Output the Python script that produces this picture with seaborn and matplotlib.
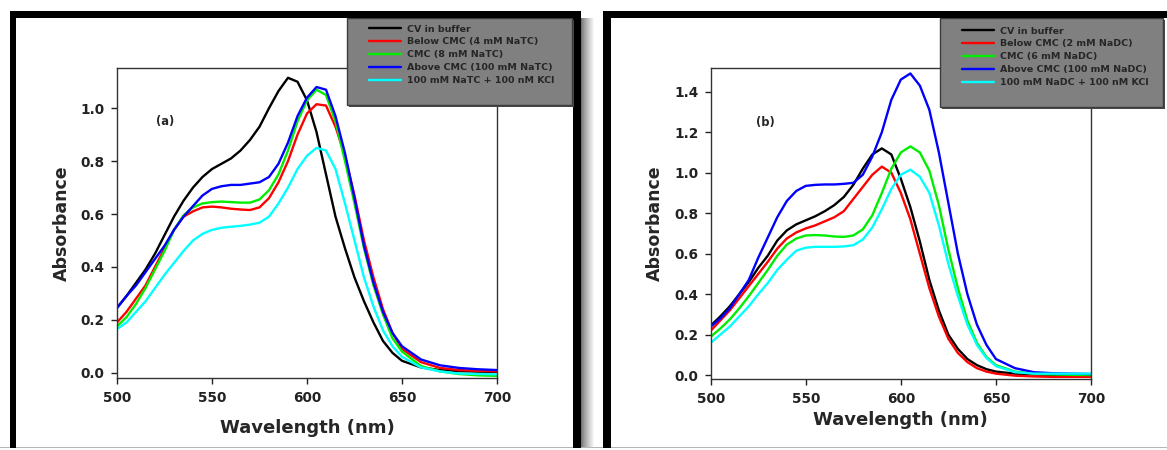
import numpy as np
import pandas as pd
import matplotlib
matplotlib.use("Agg")
import matplotlib.pyplot as plt
import seaborn as sns
from matplotlib.patches import Rectangle

# ---------------- data ----------------
wavelength = [500, 505, 510, 515, 520, 525, 530, 535, 540, 545, 550, 555, 560,
              565, 570, 575, 580, 585, 590, 595, 600, 605, 610, 615, 620, 625,
              630, 635, 640, 645, 650, 660, 670, 680, 690, 700]

labels_a = ["CV in buffer", "Below CMC (4 mM NaTC)", "CMC (8 mM NaTC)",
            "Above CMC (100 mM NaTC)", "100 mM NaTC + 100 nM KCl"]
labels_b = ["CV in buffer", "Below CMC (2 mM NaDC)", "CMC (6 mM NaDC)",
            "Above CMC (100 mM NaDC)", "100 mM NaDC + 100 nM KCl"]

a_buffer = [0.245, 0.29, 0.34, 0.39, 0.45, 0.52, 0.59, 0.65, 0.70, 0.74, 0.77, 0.79,
            0.81, 0.84, 0.88, 0.93, 1.00, 1.065, 1.115, 1.10, 1.03, 0.91, 0.75, 0.59,
            0.47, 0.36, 0.27, 0.19, 0.12, 0.075, 0.045, 0.02, 0.01, 0.006, 0.004, 0.003]
a_below = [0.19, 0.23, 0.28, 0.33, 0.40, 0.47, 0.54, 0.59, 0.61, 0.625, 0.628, 0.625,
           0.62, 0.617, 0.615, 0.625, 0.66, 0.72, 0.80, 0.90, 0.98, 1.015, 1.01, 0.93,
           0.82, 0.67, 0.50, 0.36, 0.24, 0.15, 0.09, 0.04, 0.018, 0.01, 0.007, 0.005]
a_cmc = [0.175, 0.21, 0.26, 0.32, 0.39, 0.46, 0.54, 0.595, 0.625, 0.64, 0.645, 0.647,
         0.645, 0.643, 0.643, 0.655, 0.69, 0.75, 0.84, 0.95, 1.03, 1.07, 1.05, 0.95,
         0.80, 0.64, 0.47, 0.33, 0.22, 0.13, 0.08, 0.025, 0.005, -0.005, -0.01, -0.012]
a_above = [0.245, 0.29, 0.33, 0.38, 0.43, 0.48, 0.54, 0.59, 0.63, 0.67, 0.695, 0.705,
           0.71, 0.71, 0.715, 0.72, 0.74, 0.79, 0.87, 0.97, 1.04, 1.08, 1.07, 0.97,
           0.83, 0.66, 0.48, 0.34, 0.23, 0.15, 0.10, 0.05, 0.028, 0.018, 0.013, 0.01]
a_kcl = [0.165, 0.19, 0.23, 0.27, 0.32, 0.37, 0.415, 0.46, 0.50, 0.525, 0.54, 0.548,
         0.552, 0.555, 0.56, 0.567, 0.59, 0.64, 0.70, 0.77, 0.82, 0.85, 0.84, 0.77,
         0.64, 0.50, 0.36, 0.25, 0.16, 0.10, 0.06, 0.02, 0.005, -0.003, -0.005, -0.006]

b_buffer = [0.245, 0.29, 0.34, 0.40, 0.46, 0.53, 0.59, 0.665, 0.715, 0.745, 0.765, 0.785,
            0.81, 0.84, 0.88, 0.94, 1.02, 1.09, 1.12, 1.09, 0.97, 0.83, 0.66, 0.47,
            0.32, 0.20, 0.13, 0.08, 0.05, 0.03, 0.018, 0.008, 0.004, 0.002, 0.001, 0.0]
b_below = [0.22, 0.27, 0.32, 0.38, 0.44, 0.50, 0.56, 0.625, 0.675, 0.705, 0.725, 0.74,
           0.76, 0.78, 0.81, 0.87, 0.93, 0.99, 1.03, 1.00, 0.90, 0.77, 0.60, 0.43,
           0.29, 0.18, 0.11, 0.065, 0.035, 0.018, 0.008, -0.002, -0.006, -0.008, -0.008, -0.008]
b_cmc = [0.19, 0.23, 0.275, 0.33, 0.39, 0.455, 0.52, 0.59, 0.645, 0.675, 0.69, 0.692,
         0.69, 0.685, 0.683, 0.69, 0.72, 0.79, 0.90, 1.02, 1.10, 1.13, 1.10, 1.01,
         0.84, 0.62, 0.43, 0.27, 0.16, 0.09, 0.05, 0.018, 0.008, 0.004, 0.002, 0.001]
b_above = [0.24, 0.28, 0.33, 0.40, 0.47, 0.58, 0.68, 0.78, 0.86, 0.91, 0.935, 0.94,
           0.942, 0.942, 0.945, 0.95, 0.99, 1.08, 1.20, 1.36, 1.46, 1.49, 1.43, 1.31,
           1.10, 0.85, 0.60, 0.40, 0.25, 0.15, 0.08, 0.035, 0.015, 0.01, 0.008, 0.006]
b_kcl = [0.16, 0.20, 0.24, 0.29, 0.34, 0.40, 0.455, 0.52, 0.57, 0.615, 0.63, 0.634,
         0.634, 0.634, 0.636, 0.642, 0.67, 0.73, 0.82, 0.92, 0.99, 1.015, 0.98, 0.90,
         0.74, 0.55, 0.39, 0.25, 0.15, 0.085, 0.045, 0.015, 0.008, 0.008, 0.008, 0.008]

line_colors = ["#000000", "#ff0000", "#00ee00", "#0000ff", "#00ffff"]
x_ticks = [500, 550, 600, 650, 700]
y_ticks_a = [0.0, 0.2, 0.4, 0.6, 0.8, 1.0]
y_ticks_b = [0.0, 0.2, 0.4, 0.6, 0.8, 1.0, 1.2, 1.4]

# ---------------- style ----------------
sns.set_style("ticks")
plt.rcParams["font.family"] = ["DejaVu Sans"]
plt.rcParams["font.weight"] = "bold"
plt.rcParams["axes.labelweight"] = "bold"

W, H = 1167, 450
fig = plt.figure(figsize=(W / 100, H / 100), dpi=100)
fig.patch.set_facecolor("white")


def fx(x):
    return x / W


def fy(y):
    return 1 - y / H


def prect(x0, y0, x1, y1, **kw):
    fig.add_artist(Rectangle((fx(x0), fy(y1)), (x1 - x0) / W, (y1 - y0) / H,
                             transform=fig.transFigure, **kw))


def make_df(labels, series):
    rows = []
    for lab, vals in zip(labels, series):
        for w, v in zip(wavelength, vals):
            rows.append((w, v, lab))
    return pd.DataFrame(rows, columns=["Wavelength", "Absorbance", "Sample"])


panels = [
    dict(labels=labels_a, series=[a_buffer, a_below, a_cmc, a_above, a_kcl],
         box=(117, 68, 497, 378), ylim=(-0.02, 1.152), yticks=y_ticks_a, tag="(a)",
         tagpos=(0.126, 0.826), xlabelpad=10.5, leg=(369, 24.5)),
    dict(labels=labels_b, series=[b_buffer, b_below, b_cmc, b_above, b_kcl],
         box=(710.7, 68, 1091, 379.3), ylim=(-0.02, 1.517), yticks=y_ticks_b, tag="(b)",
         tagpos=(0.143, 0.826), xlabelpad=3.5, leg=(962, 26.5)),
]

for p in panels:
    x0, y0, x1, y1 = p["box"]
    ax = fig.add_axes([fx(x0), fy(y1), (x1 - x0) / W, (y1 - y0) / H])
    df = make_df(p["labels"], p["series"])
    sns.lineplot(data=df, x="Wavelength", y="Absorbance", hue="Sample",
                 hue_order=p["labels"], palette=line_colors, linewidth=1.7,
                 estimator=None, sort=False, legend=False, ax=ax)
    ax.set_xlim(500, 700)
    ax.set_ylim(*p["ylim"])
    ax.set_xticks(x_ticks)
    ax.set_yticks(p["yticks"])
    ax.set_yticklabels([f"{t:.1f}" for t in p["yticks"]])
    ax.tick_params(direction="out", length=4, width=1, colors="#222222",
                   labelsize=9.8, pad=5)
    for s in ax.spines.values():
        s.set_visible(True)
        s.set_color("#333333")
        s.set_linewidth(1.0)
    ax.set_xlabel("Wavelength (nm)", fontsize=13, fontweight="bold",
                  labelpad=p["xlabelpad"])
    ax.set_ylabel("Absorbance", fontsize=12.5, fontweight="bold", labelpad=7)
    ax.text(p["tagpos"][0], p["tagpos"][1], p["tag"], transform=ax.transAxes,
            fontsize=8.3, fontweight="bold", ha="center", va="center")
    p["handles"] = ax.get_lines()[:5]

# ---------------- picture frames ----------------
prect(0, 446.5, 1167, 447.5, facecolor="#b5b5b5", edgecolor="none", zorder=1)
# panel (a) frame
prect(10, 11, 16, 448, facecolor="black", edgecolor="none", zorder=1)
prect(10, 11, 581, 18, facecolor="black", edgecolor="none", zorder=1)
prect(573, 11, 581, 448, facecolor="black", edgecolor="none", zorder=1)
for i in range(14):
    g = 0.45 + 0.55 * (i / 13) ** 0.8
    prect(581 + i, 18, 582 + i, 446.5, facecolor=(g, g, g), edgecolor="none", zorder=1)
# panel (b) frame
prect(603, 11, 611, 448, facecolor="black", edgecolor="none", zorder=1)
prect(603, 11, 1167, 18, facecolor="black", edgecolor="none", zorder=1)

# ---------------- legend boxes ----------------
legend_boxes = [(347, 18, 572, 105), (940, 18, 1163, 107)]
for (bx0, by0, bx1, by1) in legend_boxes:
    prect(bx0 + 2, by0 + 2, bx1 + 2, by1 + 2, facecolor="#4a4a4a", edgecolor="none", zorder=2)
    prect(bx0, by0, bx1, by1, facecolor="#808080", edgecolor="#3c3c3c",
          linewidth=1.0, zorder=2.5)
# re-draw black top border over legend top
prect(347, 11, 581, 18, facecolor="black", edgecolor="none", zorder=3)
prect(940, 11, 1167, 18, facecolor="black", edgecolor="none", zorder=3)

for p in panels:
    lx, ly = p["leg"]
    fig.legend(p["handles"], p["labels"], loc="upper left",
               bbox_to_anchor=(fx(lx), fy(ly)), bbox_transform=fig.transFigure,
               frameon=False, handlelength=3.4, handletextpad=0.6,
               labelspacing=0.42, borderpad=0, borderaxespad=0,
               prop={"weight": "bold", "size": 6.8})

fig.savefig("out.png", dpi=100, facecolor="white")
